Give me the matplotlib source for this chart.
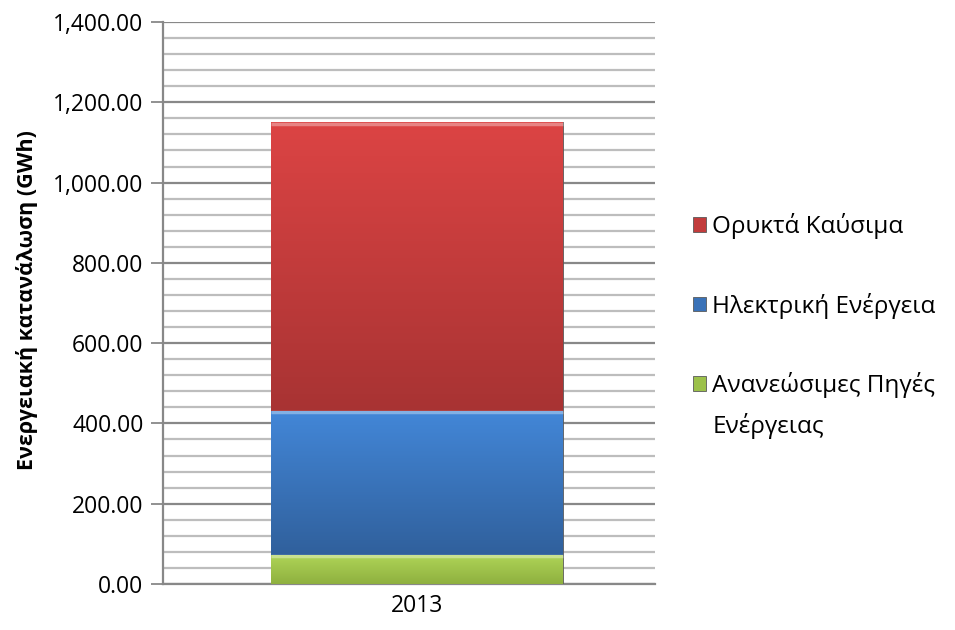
import numpy as np
import matplotlib.pyplot as plt
from matplotlib.colors import LinearSegmentedColormap
from matplotlib.ticker import MultipleLocator, FuncFormatter

plt.rcParams['font.family'] = ['Open Sans', 'DejaVu Sans']

# data (GWh)
years = ['2013']
renewables = [72]
electricity = [360]
fossil = [718]

series_labels = ['Ανανεώσιμες Πηγές', 'Ηλεκτρική Ενέργεια', 'Ορυκτά Καύσιμα']
label_wrap = 'Ενέργειας'  # second line of the renewables label
series_values = [renewables, electricity, fossil]
# (light top, mid, dark bottom) per series
series_colors = [('#aed457', '#9cc14a', '#8fb03f'),
                 ('#4387d8', '#3a72b8', '#30609c'),
                 ('#dc4444', '#c23c3c', '#a83333')]

fig = plt.figure(figsize=(9.55, 6.3), dpi=100)
ax = fig.add_axes([163 / 955, 1 - 584 / 630, 492 / 955, 562 / 630])

x = np.arange(len(years))
bottom = np.zeros(len(years))
bars = []
for vals, (light, mid, dark), lab in zip(series_values, series_colors, series_labels):
    b = ax.bar(x, vals, width=0.593, bottom=bottom, color=mid, edgecolor='#5a5a5a',
               linewidth=0.6, label=lab, zorder=3)
    bars.append(b)
    # vertical gradient inside each bar
    cmap = LinearSegmentedColormap.from_list('g', [dark, light])
    for p in b.patches:
        x0, y0 = p.get_x(), p.get_y()
        w, h = p.get_width(), p.get_height()
        grad = np.linspace(0, 1, 256).reshape(-1, 1)
        im = ax.imshow(grad, cmap=cmap, aspect='auto', origin='lower',
                       extent=[x0, x0 + w, y0, y0 + h], zorder=3.5)
        im.set_clip_path(p)
        # bevel highlight on top edge
        ax.plot([x0, x0 + w], [y0 + h - 3, y0 + h - 3], color='white', alpha=0.35,
                lw=2.5, zorder=4, solid_capstyle='butt')
    bottom += np.array(vals)

ax.set_xlim(-0.516, 0.484)
ax.set_ylim(0, 1400)
ax.yaxis.set_major_locator(MultipleLocator(200))
ax.yaxis.set_minor_locator(MultipleLocator(40))
ax.yaxis.set_major_formatter(FuncFormatter(lambda v, _: f'{v:,.2f}'))
ax.grid(axis='y', which='major', color='#888888', lw=1.6, zorder=0)
ax.grid(axis='y', which='minor', color='#bdbdbd', lw=1.6, zorder=0)
ax.set_xticks(x)
ax.set_xticklabels(years)
ax.tick_params(axis='x', length=0, pad=7, labelsize=16.5)
ax.tick_params(axis='y', which='major', length=9, color='#888888', width=1.3,
               labelsize=16.5, pad=5)
ax.tick_params(axis='y', which='minor', length=0)
for s in ['top', 'right']:
    ax.spines[s].set_visible(False)
for s in ['left', 'bottom']:
    ax.spines[s].set_color('#888888')
    ax.spines[s].set_linewidth(1.6)
ax.set_ylabel('Ενεργειακή κατανάλωση (GWh)', fontsize=15.5, fontweight='bold', labelpad=8)
ax.yaxis.set_label_coords(-0.255, 0.505)

handles = [b[0] for b in bars][::-1]
labels = series_labels[::-1]
leg = ax.legend(handles, labels, loc='upper left', bbox_to_anchor=(1.077, 0.66), frameon=False,
                fontsize=17.5, handlelength=0.55, handleheight=0.55, handletextpad=0.25,
                labelspacing=2.2, borderaxespad=0, borderpad=0)
# wrapped second line, hanging under the last legend label (drawn after the legend)
ax.annotate(label_wrap, xy=(0, 0), xycoords=leg.get_texts()[2],
            xytext=(0, -11), textcoords='offset points', va='top', ha='left',
            fontsize=17.5, zorder=10, annotation_clip=False)

fig.savefig('out.png', dpi=100)
